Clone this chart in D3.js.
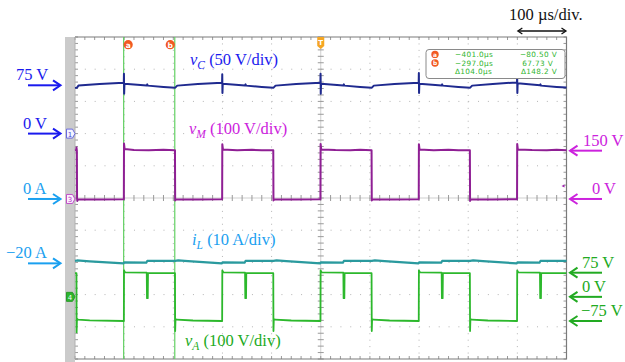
<!DOCTYPE html>
<html>
<head>
<meta charset="utf-8">
<script src="https://cdn.jsdelivr.net/npm/d3@7/dist/d3.min.js"></script>
<style>
  html, body { margin: 0; padding: 0; background: #fff; }
  svg { display: block; }
</style>
</head>
<body>
<svg id="scope" width="625" height="362"></svg>
<script>
// ---- Screen settings ----
const timeDomain = [-500, 500];          // µs, 100 µs/div, 10 divisions
const divDomain = [-5, 5];               // vertical divisions
const timePerDiv = 100;
const timebaseLabel = "100 µs/div.";

// ---- Channel settings: units per division and zero position (in divisions) ----
const chVC = { perDiv: 50, offset: 2.0 };
const chVM = { perDiv: 100, offset: -0.03 };
const chIL = { perDiv: 10, offset: -0.03 };
const chVA = { perDiv: 100, offset: -3.07 };

// ---- Cursor readout ----
const cursorTimes = [-401.0, -297.0];
const cursorNames = ["a", "b"];
const cursorCol1 = ["\u2212401.0µs", "\u2212297.0µs", "\u0394104.0µs"];
const cursorCol2 = ["\u221280.50 V", "67.73 V", "\u0394148.2 V"];

// ---- Traces: [time µs, value] ----
const vC = [
  [-500,71],[-496,71.3],[-493,74.5],[-450,77],[-401,79],
  [-400.7,79],[-400.4,93],[-400,62],[-399.4,77.5],[-354,74.8],[-353,76.5],[-352,74.5],[-320,72.5],[-296,71.3],
  [-292,74.5],[-250,77.2],[-201,79],
  [-200.7,79],[-200.4,92],[-200,63],[-199.4,77.5],[-154,74.8],[-153,76.5],[-152,74.5],[-120,72.5],[-96,71.3],
  [-92,74.5],[-50,77.2],[-1,79],
  [-0.7,79],[-0.4,93],[0,62],[0.6,77.5],[46,74.8],[47,76.5],[48,74.5],[80,72.5],[104,71.3],
  [108,74.5],[150,77.2],[199,79],
  [199.3,79],[199.6,94],[200,63],[200.6,77.5],[246,74.8],[247,76.5],[248,74.5],[280,72.5],[304,71.3],
  [308,74.5],[350,77.2],[399,79.5],
  [399.3,79.5],[399.6,92],[400,63],[400.6,78],[446,75],[447,76.5],[448,74.5],[480,72.5],[500,71.5]
];

const vM = [
  [-500,151],[-497.5,152],[-497,160],[-496.2,150],[-495.8,0],[-495.3,-6],[-494,-1],[-450,-1.5],[-401,-1],
  [-400.6,-1],[-400.3,172],[-399,155],[-380,152],[-350,151.5],[-320,152.5],[-297,151],
  [-296.6,151],[-296.2,-5],[-294.5,-1],[-250,-1.5],[-201,-1],
  [-200.6,-1],[-200.3,170],[-199,154],[-170,151.5],[-140,152.5],[-120,151.5],[-97,151],
  [-96.6,151],[-96.2,-5],[-94.5,-1],[-50,-1.5],[-1,-1],
  [-0.6,-1],[-0.3,171],[1,154],[30,152],[60,151.5],[80,152.5],[103,151],
  [103.4,151],[103.8,-5],[105.5,-1],[150,-1.5],[199,-1],
  [199.4,-1],[199.7,170],[201,154],[230,151.5],[260,152.5],[280,151.5],[303,151],
  [303.4,151],[303.8,-6],[305.5,-1],[350,-1.5],[399,-1],
  [399.4,-1],[399.7,171],[401,154],[430,152],[460,151.5],[480,152.5],[500,151.5]
];

const iL = [
  [-500,-19.2],[-496,-19.1],[-470,-19.4],[-401,-20.0],
  [-400,-19.7],[-355,-19.8],[-353,-19.25],[-296,-19.2],[-290,-19.05],[-270,-19.3],[-201,-20.0],
  [-200,-19.7],[-155,-19.8],[-153,-19.25],[-96,-19.2],[-90,-19.05],[-70,-19.3],[-1,-20.0],
  [0,-19.7],[45,-19.8],[47,-19.25],[104,-19.2],[110,-19.05],[130,-19.3],[199,-20.0],
  [200,-19.7],[245,-19.8],[247,-19.25],[304,-19.2],[310,-19.05],[330,-19.3],[399,-20.0],
  [400,-19.7],[445,-19.8],[447,-19.25],[500,-19.2]
];

const vA = [
  [-500,74],[-497,74],[-496.7,-110],[-496,-68],[-494,-71],[-470,-73],[-401,-75],
  [-400.6,-75],[-400.3,82],[-398,76],[-354,75],[-353.5,-4],[-352,-4],[-351.5,73.5],[-297,73.5],
  [-296.6,73.5],[-296.2,-106],[-295.5,-69],[-293,-71],[-260,-73.5],[-201,-75],
  [-200.6,-75],[-200.3,82],[-198,76],[-154,75],[-153.5,-4],[-152,-4],[-151.5,73.5],[-97,73.5],
  [-96.6,73.5],[-96.2,-106],[-95.5,-69],[-93,-71],[-60,-73.5],[-1,-75],
  [-0.6,-75],[-0.3,82],[2,76],[46,75],[46.5,-4],[48,-4],[48.5,73.5],[103,73.5],
  [103.4,73.5],[103.8,-106],[104.5,-69],[107,-71],[140,-73.5],[199,-75],
  [199.4,-75],[199.7,82],[202,76],[246,75],[246.5,-4],[248,-4],[248.5,73.5],[303,73.5],
  [303.4,73.5],[303.8,-106],[304.5,-69],[307,-71],[340,-73.5],[399,-75],
  [399.4,-75],[399.7,82],[402,76],[446,75],[446.5,-4],[448,-4],[448.5,73.5],[500,73.5]
];

// ---- Level markers ----
const leftMarks = [
  { ch: "vC", value: 75, text: "75 V", color: "#1a1aee", tx: 16 },
  { ch: "vC", value: 0, text: "0 V", color: "#1a1aee", tx: 23 },
  { ch: "iL", value: 0, text: "0 A", color: "#1aa0f0", tx: 23 },
  { ch: "iL", value: -20, text: "\u221220 A", color: "#1aa0f0", tx: 6 }
];
const rightMarks = [
  { ch: "vM", value: 150, text: "150 V", color: "#cc22dd", tx: 583 },
  { ch: "vM", value: 0, text: "0 V", color: "#cc22dd", tx: 592 },
  { ch: "vA", value: 75, text: "75 V", color: "#22aa22", tx: 582 },
  { ch: "vA", value: 0, text: "0 V", color: "#22aa22", tx: 582 },
  { ch: "vA", value: -75, text: "\u221275 V", color: "#22aa22", tx: 581 }
];

// ---- Layout ----
const svg = d3.select("#scope");
const X0 = 75, X1 = 566.5, Y0 = 37, Y1 = 359;
const x = d3.scaleLinear().domain(timeDomain).range([X0, X1]);
const yDiv = d3.scaleLinear().domain(divDomain).range([Y1, Y0]);

function chanScale(ch) {
  return d3.scaleLinear()
    .domain([(divDomain[0] - ch.offset) * ch.perDiv, (divDomain[1] - ch.offset) * ch.perDiv])
    .range([Y1, Y0]);
}
const scales = { vC: chanScale(chVC), vM: chanScale(chVM), iL: chanScale(chIL), vA: chanScale(chVA) };

const serif = "'Liberation Serif', 'Times New Roman', serif";
const sans = "'DejaVu Sans', 'Liberation Sans', sans-serif";

// left gray strip of the scope display
svg.append("rect").attr("x", 65).attr("y", Y0).attr("width", X0 - 65).attr("height", 362 - Y0)
  .attr("fill", "#cbcbcb");

// ---- Graticule ----
const grid = svg.append("g");
const xMajor = d3.range(timeDomain[0], timeDomain[1] + 1, timePerDiv);
const yMajor = d3.range(divDomain[0], divDomain[1] + 1, 1);
const minorX = (x(timePerDiv) - x(0)) / 5;
const minorY = (yDiv(0) - yDiv(1)) / 5;

grid.selectAll(".vg").data(xMajor.filter(t => t !== 0 && t !== timeDomain[0] && t !== timeDomain[1]))
  .join("line").attr("x1", d => x(d)).attr("x2", d => x(d)).attr("y1", Y0).attr("y2", Y1)
  .attr("stroke", "#b4b4b4").attr("stroke-width", 1).attr("stroke-dasharray", `1,${minorY - 1}`);
grid.selectAll(".hg").data(yMajor.filter(d => d !== 0 && d !== divDomain[0] && d !== divDomain[1]))
  .join("line").attr("y1", d => yDiv(d)).attr("y2", d => yDiv(d)).attr("x1", X0).attr("x2", X1)
  .attr("stroke", "#b4b4b4").attr("stroke-width", 1).attr("stroke-dasharray", `1,${minorX - 1}`);

// centre cross
grid.append("line").attr("x1", X0).attr("x2", X1).attr("y1", yDiv(0)).attr("y2", yDiv(0))
  .attr("stroke", "#cfcfcf");
grid.append("line").attr("x1", x(0)).attr("x2", x(0)).attr("y1", Y0).attr("y2", Y1)
  .attr("stroke", "#cfcfcf");

const xTicks = d3.range(0, 51).map(i => X0 + i * minorX);
const yTicks = d3.range(0, 51).map(i => Y0 + i * minorY);
grid.selectAll(".ctx").data(xTicks).join("line")
  .attr("x1", d => d).attr("x2", d => d).attr("y1", yDiv(0) - 3).attr("y2", yDiv(0) + 3)
  .attr("stroke", "#9a9a9a");
grid.selectAll(".cty").data(yTicks).join("line")
  .attr("y1", d => d).attr("y2", d => d).attr("x1", x(0) - 3).attr("x2", x(0) + 3)
  .attr("stroke", "#9a9a9a");
// border ticks
grid.selectAll(".btx").data(xTicks).join("line")
  .attr("x1", d => d).attr("x2", d => d).attr("y1", Y0).attr("y2", Y0 + 3).attr("stroke", "#9a9a9a");
grid.selectAll(".bbx").data(xTicks).join("line")
  .attr("x1", d => d).attr("x2", d => d).attr("y1", Y1 - 3).attr("y2", Y1).attr("stroke", "#9a9a9a");
grid.selectAll(".bly").data(yTicks).join("line")
  .attr("y1", d => d).attr("y2", d => d).attr("x1", X0).attr("x2", X0 + 3).attr("stroke", "#9a9a9a");
grid.selectAll(".bry").data(yTicks).join("line")
  .attr("y1", d => d).attr("y2", d => d).attr("x1", X1 - 3).attr("x2", X1).attr("stroke", "#9a9a9a");

// border
grid.append("path")
  .attr("d", `M${X0},${Y0}H${X1}V${Y1}H${X0}`)
  .attr("fill", "none").attr("stroke", "#7a7a7a").attr("stroke-width", 1.2);
grid.append("line").attr("x1", X0).attr("x2", X0).attr("y1", Y0).attr("y2", Y1)
  .attr("stroke", "#b0b0b0");

// ---- Cursors ----
svg.selectAll(".cur").data(cursorTimes).join("line")
  .attr("x1", d => x(d)).attr("x2", d => x(d)).attr("y1", Y0).attr("y2", Y1)
  .attr("stroke", "#62d062").attr("stroke-width", 1.2);

// ---- Traces ----
function drawTrace(data, scale, color, w) {
  const line = d3.line().x(d => x(d[0])).y(d => scale(d[1]));
  svg.append("path").datum(data).attr("d", line)
    .attr("fill", "none").attr("stroke", color).attr("stroke-width", w)
    .attr("stroke-linejoin", "round");
}
drawTrace(vC, scales.vC, "#1f2a8f", 2);
drawTrace(vM, scales.vM, "#8f1f94", 2);
drawTrace(iL, scales.iL, "#2a9a9e", 2.2);
drawTrace(vA, scales.vA, "#2cb82c", 1.8);

// ---- Cursor tags and trigger tag ----
const tagOffsets = [4.5, -4.5];
cursorTimes.forEach((t, i) => {
  const cx = x(t) + tagOffsets[i];
  svg.append("circle").attr("cx", cx).attr("cy", 44.7).attr("r", 4.6).attr("fill", "#f15a22");
  svg.append("text").attr("x", cx).attr("y", 47.5).attr("text-anchor", "middle")
    .attr("font-family", sans).attr("font-size", 7.5).attr("font-weight", "bold")
    .attr("fill", "#fff").text(cursorNames[i]);
});
const trig = svg.append("g").attr("transform", `translate(${x(0)},37)`);
trig.append("path").attr("d", "M-3.5,0H3.5V9L0,12L-3.5,9Z").attr("fill", "#f5a623");
trig.append("text").attr("y", 8).attr("text-anchor", "middle").attr("font-family", sans)
  .attr("font-size", 7).attr("font-weight", "bold").attr("fill", "#fff").text("T");

// ---- Cursor readout box ----
const box = svg.append("g");
box.append("rect").attr("x", 426).attr("y", 49.5).attr("width", 139).attr("height", 29)
  .attr("rx", 3).attr("fill", "#fff").attr("stroke", "#8a8a8a").attr("stroke-width", 1);
const rowY = [57.2, 65.8, 74.4];
cursorNames.forEach((n, i) => {
  box.append("circle").attr("cx", 435).attr("cy", rowY[i] - 2.8).attr("r", 3.7).attr("fill", "#f15a22");
  box.append("text").attr("x", 435).attr("y", rowY[i] - 0.7).attr("text-anchor", "middle")
    .attr("font-family", sans).attr("font-size", 5.8).attr("font-weight", "bold").attr("fill", "#fff").text(n);
});
const col2X = [557, 553, 557];
cursorCol1.forEach((s, i) => {
  box.append("text").attr("x", 455).attr("y", rowY[i]).attr("font-family", sans)
    .attr("font-size", 7.3).attr("letter-spacing", 0.35).attr("fill", "#2fb52f").text(s);
  box.append("text").attr("x", col2X[i]).attr("y", rowY[i]).attr("text-anchor", "end")
    .attr("font-family", sans).attr("font-size", 7.3).attr("letter-spacing", 0.35)
    .attr("fill", "#2fb52f").text(cursorCol2[i]);
});

// ---- Channel ground tags on the left strip ----
function chanTag(yy, label, fill, stroke, textColor) {
  const g = svg.append("g").attr("transform", `translate(66.5,${yy})`);
  g.append("path").attr("d", "M0,-4.5H6L8.5,0L6,4.5H0Z")
    .attr("fill", fill).attr("stroke", stroke).attr("stroke-width", 1);
  g.append("text").attr("x", 3.5).attr("y", 3).attr("text-anchor", "middle")
    .attr("font-family", sans).attr("font-size", 7).attr("fill", textColor).text(label);
}
chanTag(scales.vC(0), "1", "#f4f4ff", "#6a6ae0", "#4a4ad0");
chanTag(scales.vM(0), "3", "#fbeefc", "#c050c8", "#b030c0");
chanTag(scales.vA(0), "4", "#2db52d", "#2a9a2a", "#fff");

// small level indicator at right edge
svg.append("path").attr("d", `M${X1 - 5},${scales.vM(40)}l3,-1.5v3z`).attr("fill", "#a020b0");

// ---- Level arrows ----
function arrowRight(yy, color) {
  svg.append("line").attr("x1", 28).attr("x2", 60).attr("y1", yy).attr("y2", yy)
    .attr("stroke", color).attr("stroke-width", 2);
  svg.append("path").attr("d", `M53,${yy - 5}L60.5,${yy}L53,${yy + 5}`)
    .attr("fill", "none").attr("stroke", color).attr("stroke-width", 2);
}
function arrowLeft(yy, color) {
  svg.append("line").attr("x1", 570).attr("x2", 602).attr("y1", yy).attr("y2", yy)
    .attr("stroke", color).attr("stroke-width", 2);
  svg.append("path").attr("d", `M577.5,${yy - 5}L570,${yy}L577.5,${yy + 5}`)
    .attr("fill", "none").attr("stroke", color).attr("stroke-width", 2);
}
leftMarks.forEach(m => {
  const yy = scales[m.ch](m.value);
  arrowRight(yy, m.color);
  svg.append("text").attr("x", m.tx).attr("y", yy - 5).attr("font-family", serif)
    .attr("font-size", 16.5).attr("fill", m.color).text(m.text);
});
rightMarks.forEach(m => {
  const yy = scales[m.ch](m.value);
  arrowLeft(yy, m.color);
  svg.append("text").attr("x", m.tx).attr("y", yy - 5).attr("font-family", serif)
    .attr("font-size", 16.5).attr("fill", m.color).text(m.text);
});

// ---- Trace labels ----
function traceLabel(xx, yy, sym, sub, rest, color) {
  const t = svg.append("text").attr("x", xx).attr("y", yy).attr("font-family", serif)
    .attr("font-size", 16.5).attr("fill", color);
  t.append("tspan").attr("font-style", "italic").text(sym);
  t.append("tspan").attr("font-style", "italic").attr("font-size", 11.5).attr("dy", 4).text(sub);
  t.append("tspan").attr("dy", -4).text(" " + rest);
}
traceLabel(190, 65, "v", "C", "(50 V/div)", "#1a1aee");
traceLabel(189, 134, "v", "M", "(100 V/div)", "#cc22dd");
traceLabel(192, 245, "i", "L", "(10 A/div)", "#1aa0f0");
traceLabel(185, 346, "v", "A", "(100 V/div)", "#22aa22");

// ---- Timebase annotation ----
svg.append("text").attr("x", 509).attr("y", 20).attr("font-family", serif)
  .attr("font-size", 16.5).attr("fill", "#111").text(timebaseLabel);
const ay = 31, ax0 = x(timeDomain[1] - timePerDiv), ax1 = x(timeDomain[1]);
svg.append("line").attr("x1", ax0 + 1).attr("x2", ax1 - 1).attr("y1", ay).attr("y2", ay)
  .attr("stroke", "#111").attr("stroke-width", 1.3);
svg.append("path").attr("d", `M${ax0 + 5},${ay - 3}L${ax0 + 0.5},${ay}L${ax0 + 5},${ay + 3}`)
  .attr("fill", "none").attr("stroke", "#111").attr("stroke-width", 1.3);
svg.append("path").attr("d", `M${ax1 - 5},${ay - 3}L${ax1 - 0.5},${ay}L${ax1 - 5},${ay + 3}`)
  .attr("fill", "none").attr("stroke", "#111").attr("stroke-width", 1.3);
</script>
</body>
</html>
